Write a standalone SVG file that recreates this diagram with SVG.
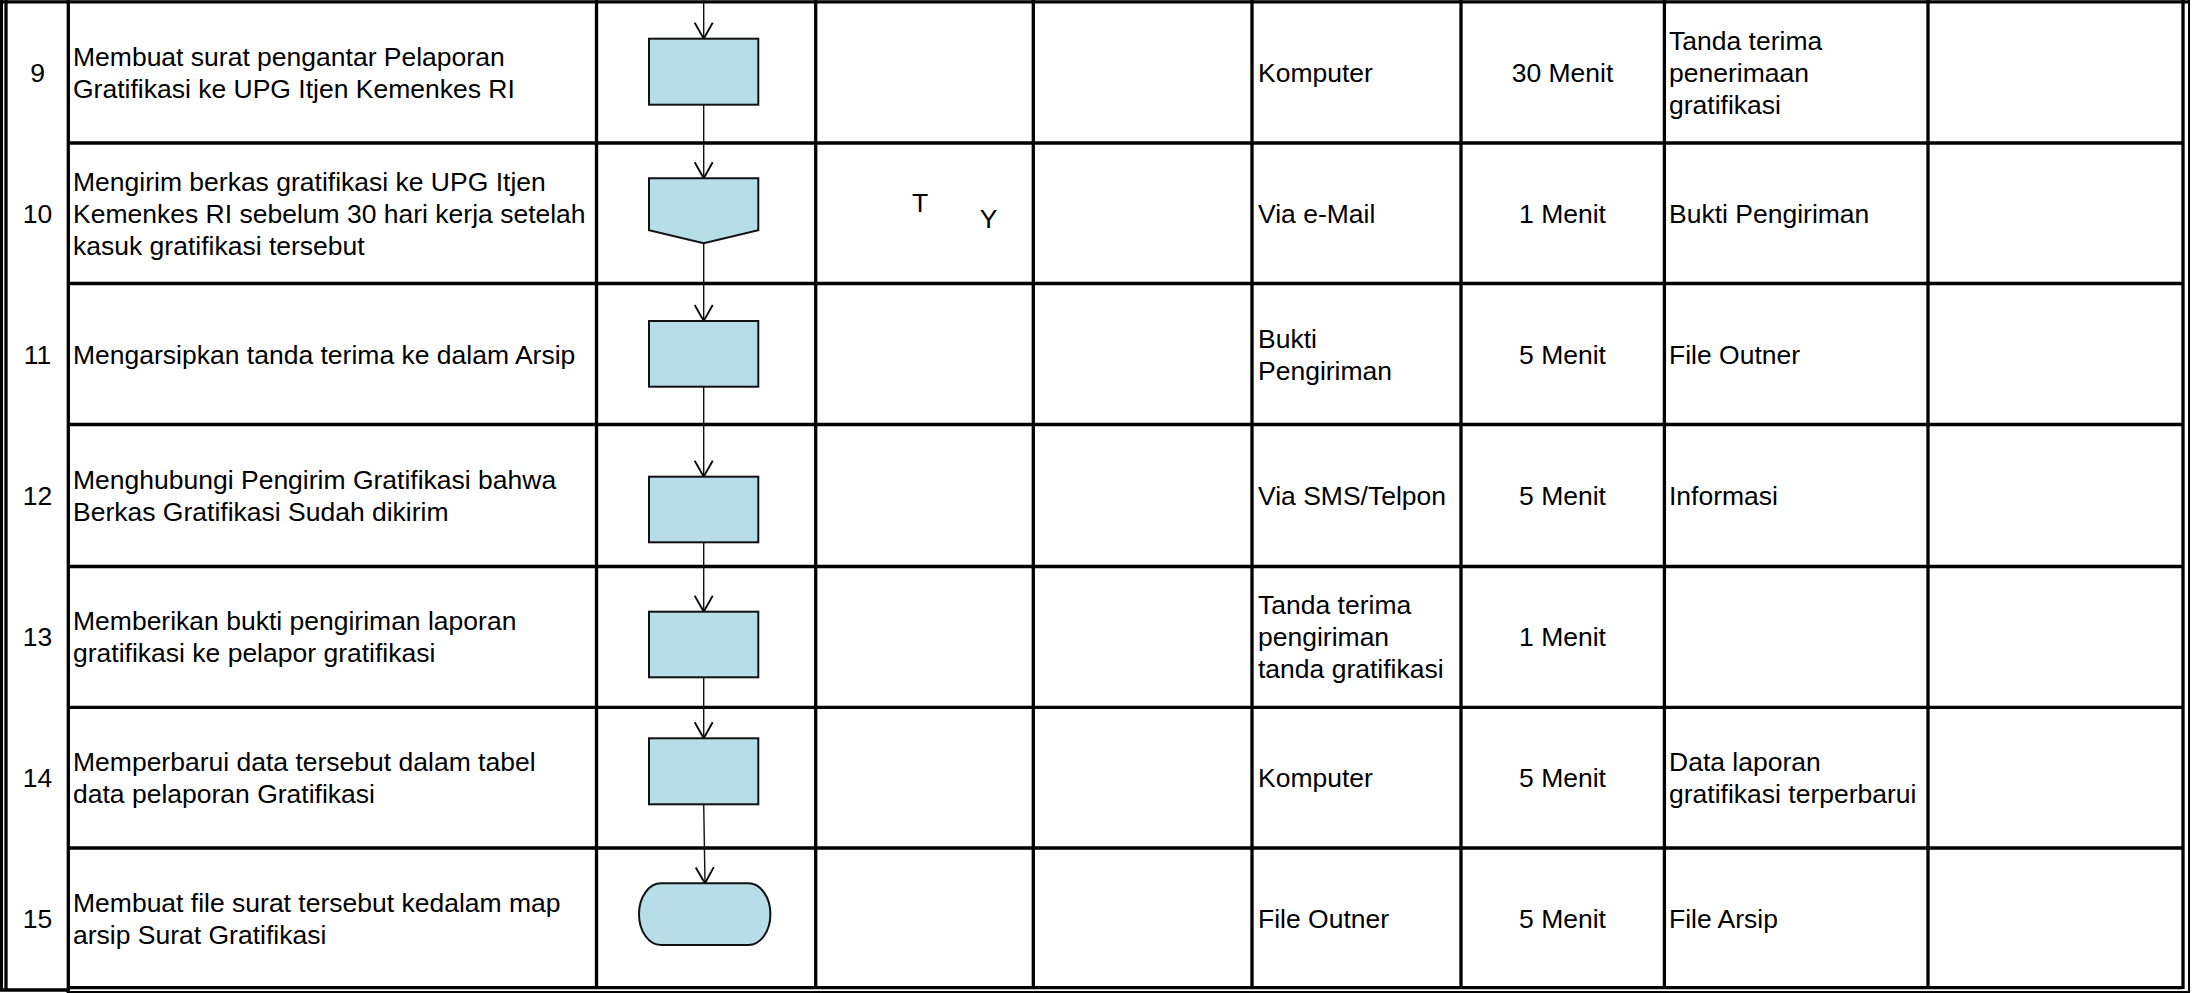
<svg xmlns="http://www.w3.org/2000/svg" width="2196" height="993" viewBox="0 0 2196 993">
<style>
.g{stroke:#000;stroke-width:3.3;fill:none}
.t{font-family:"Liberation Sans",Arial,sans-serif;font-size:26.5px;fill:#000}
.c{text-anchor:middle}
.s{fill:#B7DEE8;stroke:#111;stroke-width:2}
.k{stroke:#111;stroke-width:1.4;fill:none;marker-end:url(#ah)}
</style>
<defs>
<marker id="ah" markerUnits="userSpaceOnUse" viewBox="-18 -11 20 22" refX="0" refY="0" markerWidth="20" markerHeight="22" orient="auto" overflow="visible">
<path d="M-16,-9 L0,0 L-16,9" fill="none" stroke="#000" stroke-width="1.8"/>
</marker>
</defs>
<rect width="2196" height="993" fill="#fff"/>
<g id="grid">
<line class="g" x1="0" y1="1.8" x2="2190" y2="1.8"/>
<line class="g" x1="68" y1="143" x2="2183" y2="143"/>
<line class="g" x1="68" y1="283.5" x2="2183" y2="283.5"/>
<line class="g" x1="68" y1="424.5" x2="2183" y2="424.5"/>
<line class="g" x1="68" y1="566.5" x2="2183" y2="566.5"/>
<line class="g" x1="68" y1="707.3" x2="2183" y2="707.3"/>
<line class="g" x1="68" y1="848" x2="2183" y2="848"/>
<line class="g" x1="68" y1="987.7" x2="2183" y2="987.7"/>
<line x1="68" y1="992" x2="2190" y2="992" stroke="#000" stroke-width="2"/>
<line class="g" x1="1.4" y1="0" x2="1.4" y2="990"/>
<line class="g" x1="6" y1="0" x2="6" y2="990"/>
<line class="g" x1="0" y1="990" x2="68" y2="990"/>
<line class="g" x1="68.3" y1="0" x2="68.3" y2="993"/>
<line class="g" x1="596.5" y1="0" x2="596.5" y2="989"/>
<line class="g" x1="815.7" y1="0" x2="815.7" y2="989"/>
<line class="g" x1="1033.3" y1="0" x2="1033.3" y2="989"/>
<line class="g" x1="1252" y1="0" x2="1252" y2="989"/>
<line class="g" x1="1461" y1="0" x2="1461" y2="989"/>
<line class="g" x1="1664.4" y1="0" x2="1664.4" y2="989"/>
<line class="g" x1="1928" y1="0" x2="1928" y2="989"/>
<line class="g" x1="2183" y1="0" x2="2183" y2="989"/>
<line x1="2189" y1="0" x2="2189" y2="993" stroke="#000" stroke-width="2"/>
</g>
<g id="connectors">
<line class="k" x1="703.7" y1="0" x2="703.7" y2="38.7"/>
<line class="k" x1="703.7" y1="104.7" x2="703.7" y2="178.3"/>
<line class="k" x1="703.7" y1="243.3" x2="703.7" y2="321"/>
<line class="k" x1="703.7" y1="386.7" x2="703.7" y2="476.7"/>
<line class="k" x1="703.7" y1="542.3" x2="703.7" y2="611.7"/>
<line class="k" x1="703.7" y1="677.3" x2="703.7" y2="738.3"/>
<line class="k" x1="703.7" y1="804.3" x2="705" y2="883.3"/>
</g>
<g id="node9"><rect class="s" x="649" y="38.7" width="109.3" height="66"/></g>
<g id="node10"><polygon class="s" points="649,178.3 758.3,178.3 758.3,230.3 703.7,243.3 649,230.3"/></g>
<g id="node11"><rect class="s" x="649" y="321" width="109.3" height="65.7"/></g>
<g id="node12"><rect class="s" x="649" y="476.7" width="109.3" height="65.6"/></g>
<g id="node13"><rect class="s" x="649" y="611.7" width="109.3" height="65.6"/></g>
<g id="node14"><rect class="s" x="649" y="738.3" width="109.3" height="66"/></g>
<g id="node15"><rect class="s" x="639" y="883.3" width="131.4" height="61.7" rx="22" ry="30.8"/></g>
<g id="labels">
<text class="t c" x="37.5" y="82">9</text>
<text class="t c" x="37.5" y="222.5">10</text>
<text class="t c" x="37.5" y="363.5">11</text>
<text class="t c" x="37.5" y="504.5">12</text>
<text class="t c" x="37.5" y="646">13</text>
<text class="t c" x="37.5" y="787">14</text>
<text class="t c" x="37.5" y="927.5">15</text>

<text class="t" x="73" y="66">Membuat surat pengantar Pelaporan</text>
<text class="t" x="73" y="98">Gratifikasi ke UPG Itjen Kemenkes RI</text>
<text class="t" x="73" y="190.5">Mengirim berkas gratifikasi ke UPG Itjen</text>
<text class="t" x="73" y="222.5">Kemenkes RI sebelum 30 hari kerja setelah</text>
<text class="t" x="73" y="254.5">kasuk gratifikasi tersebut</text>
<text class="t" x="73" y="363.5">Mengarsipkan tanda terima ke dalam Arsip</text>
<text class="t" x="73" y="488.5">Menghubungi Pengirim Gratifikasi bahwa</text>
<text class="t" x="73" y="520.5">Berkas Gratifikasi Sudah dikirim</text>
<text class="t" x="73" y="630">Memberikan bukti pengiriman laporan</text>
<text class="t" x="73" y="662">gratifikasi ke pelapor gratifikasi</text>
<text class="t" x="73" y="771">Memperbarui data tersebut dalam tabel</text>
<text class="t" x="73" y="803">data pelaporan Gratifikasi</text>
<text class="t" x="73" y="911.5">Membuat file surat tersebut kedalam map</text>
<text class="t" x="73" y="943.5">arsip Surat Gratifikasi</text>

<text class="t c" x="920" y="211.7">T</text>
<text class="t c" x="988.5" y="227.7">Y</text>

<text class="t" x="1258" y="82">Komputer</text>
<text class="t" x="1258" y="222.5">Via e-Mail</text>
<text class="t" x="1258" y="347.5">Bukti</text>
<text class="t" x="1258" y="379.5">Pengiriman</text>
<text class="t" x="1258" y="504.5">Via SMS/Telpon</text>
<text class="t" x="1258" y="614">Tanda terima</text>
<text class="t" x="1258" y="646">pengiriman</text>
<text class="t" x="1258" y="678">tanda gratifikasi</text>
<text class="t" x="1258" y="787">Komputer</text>
<text class="t" x="1258" y="927.5">File Outner</text>

<text class="t c" x="1562.5" y="82">30 Menit</text>
<text class="t c" x="1562.5" y="222.5">1 Menit</text>
<text class="t c" x="1562.5" y="363.5">5 Menit</text>
<text class="t c" x="1562.5" y="504.5">5 Menit</text>
<text class="t c" x="1562.5" y="646">1 Menit</text>
<text class="t c" x="1562.5" y="787">5 Menit</text>
<text class="t c" x="1562.5" y="927.5">5 Menit</text>

<text class="t" x="1669" y="50">Tanda terima</text>
<text class="t" x="1669" y="82">penerimaan</text>
<text class="t" x="1669" y="114">gratifikasi</text>
<text class="t" x="1669" y="222.5">Bukti Pengiriman</text>
<text class="t" x="1669" y="363.5">File Outner</text>
<text class="t" x="1669" y="504.5">Informasi</text>
<text class="t" x="1669" y="771">Data laporan</text>
<text class="t" x="1669" y="803">gratifikasi terperbarui</text>
<text class="t" x="1669" y="927.5">File Arsip</text>
</g>
</svg>
